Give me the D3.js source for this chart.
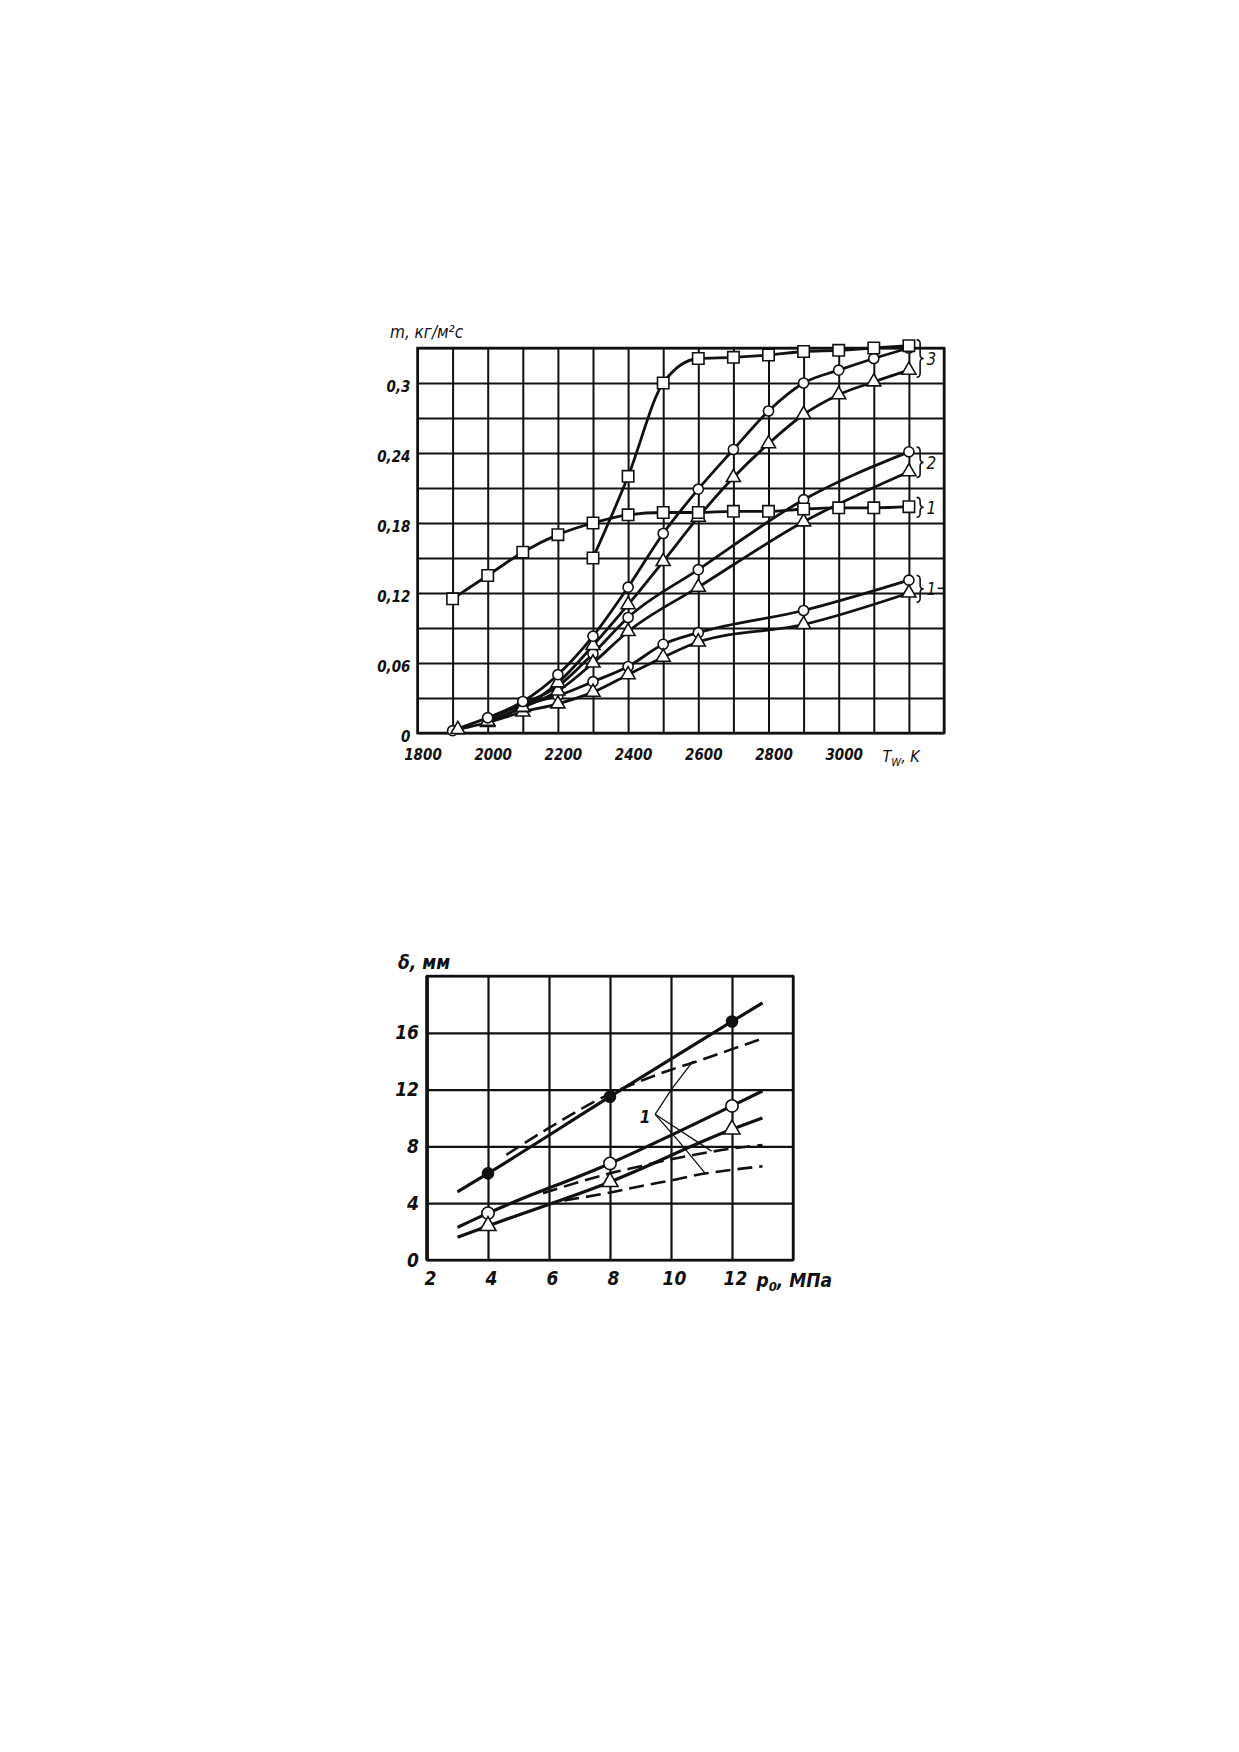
<!DOCTYPE html>
<html>
<head>
<meta charset="utf-8">
<script src="https://cdn.jsdelivr.net/npm/d3@7"></script>
<style>
  body { margin: 0; background: #fff; }
  text { font-family: "DejaVu Sans Condensed", "Liberation Sans Narrow", "DejaVu Sans", sans-serif; font-style: italic; fill: #111; }
</style>
</head>
<body>
<script>
// ---- top chart: mass loss rate vs wall temperature ----
var twTicks = [1800, 2000, 2200, 2400, 2600, 2800, 3000];
var mTicks = [0, 0.06, 0.12, 0.18, 0.24, 0.3];

var twSq3 = [2300, 2400, 2500, 2600, 2700, 2800, 2900, 3000, 3100, 3200];
var mSq3 = [0.150, 0.220, 0.300, 0.321, 0.322, 0.324, 0.327, 0.328, 0.330, 0.332];
var twSq1 = [1900, 2000, 2100, 2200, 2300, 2400, 2500, 2600, 2700, 2800, 2900, 3000, 3100, 3200];
var mSq1 = [0.115, 0.135, 0.155, 0.170, 0.180, 0.187, 0.189, 0.189, 0.190, 0.190, 0.192, 0.193, 0.193, 0.194];
var twCirc3 = [2000, 2100, 2200, 2300, 2400, 2500, 2600, 2700, 2800, 2900, 3000, 3100, 3200];
var mCirc3 = [0.013, 0.027, 0.050, 0.083, 0.125, 0.171, 0.209, 0.243, 0.276, 0.300, 0.311, 0.321, 0.330];
var twTri3 = [2000, 2100, 2200, 2300, 2400, 2500, 2600, 2700, 2800, 2900, 3000, 3100, 3200];
var mTri3 = [0.010, 0.022, 0.043, 0.075, 0.110, 0.147, 0.185, 0.219, 0.248, 0.273, 0.290, 0.301, 0.311];
var twCirc2 = [2000, 2100, 2200, 2300, 2400, 2600, 2900, 3200];
var mCirc2 = [0.012, 0.025, 0.040, 0.068, 0.099, 0.140, 0.200, 0.241];
var twTri2 = [2000, 2100, 2200, 2300, 2400, 2600, 2900, 3200];
var mTri2 = [0.010, 0.022, 0.036, 0.060, 0.087, 0.125, 0.181, 0.224];
var twCirc1 = [1900, 2000, 2100, 2200, 2300, 2400, 2500, 2600, 2900, 3200];
var mCirc1 = [0.002, 0.013, 0.024, 0.032, 0.044, 0.057, 0.076, 0.086, 0.105, 0.131];
var twTri1 = [1915, 2000, 2100, 2200, 2300, 2400, 2500, 2600, 2900, 3200];
var mTri1 = [0.003, 0.009, 0.018, 0.025, 0.035, 0.050, 0.065, 0.078, 0.093, 0.120];

// group labels on the right: label, brace top, brace bottom
var groupNames = ['3', '2', '1', '1'];
var groupTop = [0.337, 0.245, 0.202, 0.135];
var groupBottom = [0.305, 0.219, 0.185, 0.112];

// ---- bottom chart: thickness vs pressure ----
var pTicks = [2, 4, 6, 8, 10, 12];
var dTicks = [0, 4, 8, 12, 16];
var pSolid = [3, 4, 8, 12, 13];
var pMarked = [4, 8, 12];
var dDots = [4.8, 6.1, 11.5, 16.8, 18.1];
var dCirc = [2.3, 3.3, 6.8, 10.85, 11.9];
var dTri = [1.6, 2.4, 5.5, 9.2, 10.0];
var pDashA = [4.6, 6, 8, 9, 10, 11, 12, 13];
var dDashA = [7.4, 9.3, 11.7, 12.6, 13.4, 14.1, 14.85, 15.6];
var pDashB = [5.8, 7, 8, 9, 10, 11, 12, 13];
var dDashB = [4.7, 5.5, 6.1, 6.6, 7.1, 7.5, 7.85, 8.1];
var pDashC = [6.5, 8, 9, 10, 11, 12, 13];
var dDashC = [4.2, 4.75, 5.2, 5.6, 6.05, 6.35, 6.6];
// leader lines from the label "1"
var leaderLabel = [9.15, 9.65];
var leaders = [
    [[9.48, 10.26], [10.02, 12.03], [10.73, 14.03]],
    [[9.48, 10.26], [11.33, 7.67]],
    [[9.48, 10.26], [10.3, 8.25], [11.11, 6.13]]
];

function zip(xs, ys) {
    return xs.map(function (v, i) { return [v, ys[i]]; });
}

var svg = d3.select('body').append('svg')
    .attr('width', 1239)
    .attr('height', 1752);

//// TOP CHART
var x1 = d3.scaleLinear().domain([1800, 3300]).range([417.5, 944]);
var y1 = d3.scaleLinear().domain([0, 0.33]).range([733, 348]);
var topG = svg.append('g');

// grid
topG.append('g')
    .attr('transform', 'translate(0,' + y1(0) + ')')
    .call(d3.axisBottom(x1).tickValues(d3.range(1800, 3301, 100)).tickSize(y1(0.33) - y1(0)).tickFormat(''))
    .call(function (g) { g.select('.domain').remove(); })
    .selectAll('line').attr('stroke', '#111').attr('stroke-width', 2);
topG.append('g')
    .attr('transform', 'translate(' + x1(1800) + ',0)')
    .call(d3.axisLeft(y1).tickValues(d3.range(12).map(function (i) { return i * 0.03; })).tickSize(x1(1800) - x1(3300)).tickFormat(''))
    .call(function (g) { g.select('.domain').remove(); })
    .selectAll('line').attr('stroke', '#111').attr('stroke-width', 2);
topG.append('rect')
    .attr('x', x1(1800)).attr('y', y1(0.33))
    .attr('width', x1(3300) - x1(1800)).attr('height', y1(0) - y1(0.33))
    .attr('fill', 'none').attr('stroke', '#111').attr('stroke-width', 2.5);

// tick labels
topG.append('g')
    .attr('transform', 'translate(0,' + y1(0) + ')')
    .call(d3.axisBottom(x1).tickValues(twTicks).tickSize(0).tickPadding(16).tickFormat(d3.format('d')))
    .call(function (g) { g.select('.domain').remove(); })
    .selectAll('text')
    .attr('dx', 5)
    .style('font-size', '15px').style('font-weight', '600');
topG.append('g')
    .attr('transform', 'translate(' + x1(1800) + ',0)')
    .call(d3.axisLeft(y1).tickValues(mTicks).tickSize(0).tickPadding(7)
        .tickFormat(function (d) { return d === 0 ? '0' : String(+d.toFixed(2)).replace('.', ','); }))
    .call(function (g) { g.select('.domain').remove(); })
    .selectAll('text')
    .attr('dy', '0.55em')
    .style('font-size', '15px').style('font-weight', '600');

topG.append('text')
    .attr('x', 390).attr('y', 338)
    .style('font-size', '17px')
    .text('m, кг/м²с');
var twLabel = topG.append('text')
    .attr('x', x1(3125)).attr('y', y1(0) + 29)
    .style('font-size', '16px');
twLabel.append('tspan').text('T');
twLabel.append('tspan').attr('dy', 4).style('font-size', '11px').text('W');
twLabel.append('tspan').attr('dy', -4).text(', K');

var curve = d3.line()
    .x(function (d) { return x1(d[0]); })
    .y(function (d) { return y1(d[1]); })
    .curve(d3.curveMonotoneX);

var topSeries = [
    { pts: zip(twCirc1, mCirc1), sym: d3.symbolCircle, size: 80 },
    { pts: zip(twTri1, mTri1), sym: d3.symbolTriangle, size: 85 },
    { pts: zip(twCirc2, mCirc2), sym: d3.symbolCircle, size: 80 },
    { pts: zip(twTri2, mTri2), sym: d3.symbolTriangle, size: 85 },
    { pts: zip(twTri3, mTri3), sym: d3.symbolTriangle, size: 85 },
    { pts: zip(twCirc3, mCirc3), sym: d3.symbolCircle, size: 80 },
    { pts: zip(twSq1, mSq1), sym: d3.symbolSquare, size: 130 },
    { pts: zip(twSq3, mSq3), sym: d3.symbolSquare, size: 130 }
];

topSeries.forEach(function (s) {
    topG.append('path')
        .attr('d', curve(s.pts))
        .attr('fill', 'none')
        .attr('stroke', '#111')
        .attr('stroke-width', 2.8);
});
topSeries.forEach(function (s) {
    topG.selectAll(null)
        .data(s.pts)
        .enter().append('path')
        .attr('transform', function (d) { return 'translate(' + x1(d[0]) + ',' + y1(d[1]) + ')'; })
        .attr('d', d3.symbol(s.sym, s.size))
        .attr('fill', '#fff')
        .attr('stroke', '#111')
        .attr('stroke-width', 1.6);
});

// braces on the right
function brace(x, ya, yb, w) {
    var ym = (ya + yb) / 2, q = Math.min(4, (yb - ya) / 4);
    return 'M' + x + ',' + ya +
        'Q' + (x + w) + ',' + ya + ' ' + (x + w) + ',' + (ya + q) +
        'L' + (x + w) + ',' + (ym - q) +
        'Q' + (x + w) + ',' + ym + ' ' + (x + 2 * w) + ',' + ym +
        'Q' + (x + w) + ',' + ym + ' ' + (x + w) + ',' + (ym + q) +
        'L' + (x + w) + ',' + (yb - q) +
        'Q' + (x + w) + ',' + yb + ' ' + x + ',' + yb;
}
groupNames.forEach(function (name, i) {
    topG.append('path')
        .attr('d', brace(x1(3222), y1(groupTop[i]), y1(groupBottom[i]), 3.5))
        .attr('fill', 'none').attr('stroke', '#111').attr('stroke-width', 1.6);
    topG.append('text')
        .attr('x', x1(3250)).attr('y', y1((groupTop[i] + groupBottom[i]) / 2))
        .attr('dy', '0.38em')
        .style('font-size', '17px')
        .text(name);
});
topG.append('line')
    .attr('x1', x1(3282)).attr('x2', x1(3300))
    .attr('y1', y1(0.124)).attr('y2', y1(0.124))
    .attr('stroke', '#111').attr('stroke-width', 1.6);

//// BOTTOM CHART
var x2 = d3.scaleLinear().domain([2, 14]).range([427, 793]);
var y2 = d3.scaleLinear().domain([0, 20]).range([1260, 976]);
var botG = svg.append('g');

botG.append('g')
    .attr('transform', 'translate(0,' + y2(0) + ')')
    .call(d3.axisBottom(x2).tickValues(d3.range(2, 14.1, 2)).tickSize(y2(20) - y2(0)).tickFormat(''))
    .call(function (g) { g.select('.domain').remove(); })
    .selectAll('line').attr('stroke', '#111').attr('stroke-width', 2.2);
botG.append('g')
    .attr('transform', 'translate(' + x2(2) + ',0)')
    .call(d3.axisLeft(y2).tickValues(d3.range(0, 20.1, 4)).tickSize(x2(2) - x2(14)).tickFormat(''))
    .call(function (g) { g.select('.domain').remove(); })
    .selectAll('line').attr('stroke', '#111').attr('stroke-width', 2.2);
botG.append('rect')
    .attr('x', x2(2)).attr('y', y2(20))
    .attr('width', x2(14) - x2(2)).attr('height', y2(0) - y2(20))
    .attr('fill', 'none').attr('stroke', '#111').attr('stroke-width', 2.4);
botG.append('line')
    .attr('x1', x2(2)).attr('x2', x2(2)).attr('y1', y2(20)).attr('y2', y2(0))
    .attr('stroke', '#111').attr('stroke-width', 3.5);

botG.append('g')
    .attr('transform', 'translate(0,' + y2(0) + ')')
    .call(d3.axisBottom(x2).tickValues(pTicks).tickSize(0).tickPadding(12))
    .call(function (g) { g.select('.domain').remove(); })
    .selectAll('text')
    .attr('dx', 3)
    .style('font-size', '19px').style('font-weight', 'bold');
botG.append('g')
    .attr('transform', 'translate(' + x2(2) + ',0)')
    .call(d3.axisLeft(y2).tickValues(dTicks).tickSize(0).tickPadding(8))
    .call(function (g) { g.select('.domain').remove(); })
    .selectAll('text')
    .style('font-size', '19px').style('font-weight', 'bold');

botG.append('text')
    .attr('x', 398).attr('y', 969)
    .style('font-size', '19px').style('font-weight', 'bold')
    .text('δ, мм');
var pLabel = botG.append('text')
    .attr('x', x2(12.8)).attr('y', y2(0) + 27)
    .style('font-size', '19px').style('font-weight', 'bold');
pLabel.append('tspan').text('p');
pLabel.append('tspan').attr('dy', 4).style('font-size', '13px').text('0');
pLabel.append('tspan').attr('dy', -4).text(', МПа');

var line2 = d3.line()
    .x(function (d) { return x2(d[0]); })
    .y(function (d) { return y2(d[1]); })
    .curve(d3.curveMonotoneX);

[zip(pDashA, dDashA), zip(pDashB, dDashB), zip(pDashC, dDashC)].forEach(function (pts) {
    botG.append('path')
        .attr('d', line2(pts))
        .attr('fill', 'none').attr('stroke', '#111')
        .attr('stroke-width', 2.6)
        .attr('stroke-dasharray', '15,7');
});

var botSeries = [
    { pts: zip(pSolid, dDots), sym: d3.symbolCircle, size: 95, fill: '#111' },
    { pts: zip(pSolid, dCirc), sym: d3.symbolCircle, size: 120, fill: '#fff' },
    { pts: zip(pSolid, dTri), sym: d3.symbolTriangle, size: 110, fill: '#fff' }
];
botSeries.forEach(function (s) {
    botG.append('path')
        .attr('d', line2(s.pts))
        .attr('fill', 'none').attr('stroke', '#111')
        .attr('stroke-width', 3.2);
});
botSeries.forEach(function (s) {
    botG.selectAll(null)
        .data(s.pts.filter(function (d) { return pMarked.indexOf(d[0]) >= 0; }))
        .enter().append('path')
        .attr('transform', function (d) { return 'translate(' + x2(d[0]) + ',' + y2(d[1]) + ')'; })
        .attr('d', d3.symbol(s.sym, s.size))
        .attr('fill', s.fill)
        .attr('stroke', '#111')
        .attr('stroke-width', 1.6);
});

var straight = d3.line()
    .x(function (d) { return x2(d[0]); })
    .y(function (d) { return y2(d[1]); });
leaders.forEach(function (pts) {
    botG.append('path')
        .attr('d', straight(pts))
        .attr('fill', 'none').attr('stroke', '#111')
        .attr('stroke-width', 1.3);
});
botG.append('text')
    .attr('x', x2(leaderLabel[0])).attr('y', y2(leaderLabel[1]))
    .attr('text-anchor', 'middle')
    .style('font-size', '17px').style('font-weight', 'bold')
    .text('1');
</script>
</body>
</html>
